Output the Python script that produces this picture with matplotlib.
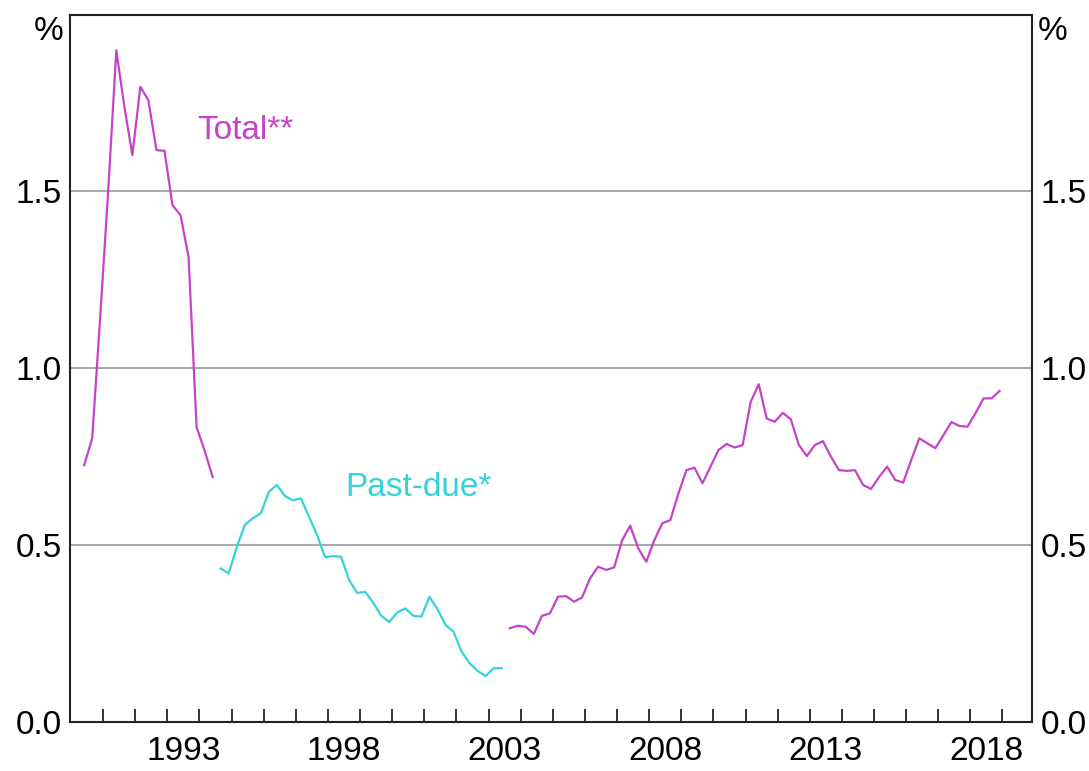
'''
Draws housing non-performing loans shares: total and past-due.
'''

import numpy as np
import matplotlib
matplotlib.use('Agg')
import matplotlib.pyplot as plt

OUT_FILE = 'out.png'

FIRST_QUARTER = 1990.41
STEP = 0.25

TOTAL_EARLY = [
    0.726, 0.802, 1.146, 1.504, 1.899, 1.741, 1.603, 1.796, 1.758,
    1.617, 1.615, 1.461, 1.433, 1.315, 0.834, 0.767, 0.693
]

PAST_DUE = [
    0.434, 0.420, 0.494, 0.557, 0.576, 0.590, 0.651, 0.670, 0.639,
    0.627, 0.632, 0.580, 0.529, 0.466, 0.469, 0.467, 0.401, 0.365,
    0.368, 0.337, 0.300, 0.283, 0.310, 0.321, 0.300, 0.298, 0.354,
    0.319, 0.274, 0.255, 0.199, 0.166, 0.144, 0.130, 0.152, 0.152
]

TOTAL_LATE = [
    0.265, 0.272, 0.269, 0.249, 0.300, 0.307, 0.354, 0.356, 0.340,
    0.352, 0.406, 0.439, 0.430, 0.437, 0.514, 0.555, 0.491, 0.453,
    0.514, 0.562, 0.571, 0.646, 0.712, 0.719, 0.675, 0.722, 0.769,
    0.786, 0.776, 0.783, 0.905, 0.955, 0.858, 0.849, 0.874, 0.856,
    0.783, 0.752, 0.783, 0.794, 0.750, 0.712, 0.710, 0.712, 0.670,
    0.659, 0.693, 0.722, 0.684, 0.677, 0.741, 0.802, 0.788, 0.774,
    0.811, 0.848, 0.837, 0.835, 0.873, 0.915, 0.915, 0.936
]

Y_TICKS = [0.0, 0.5, 1.0, 1.5]
YEAR_LABELS = [1993, 1998, 2003, 2008, 2013, 2018]

MAGENTA = '#c443c8'
CYAN = '#35d2da'
FONT = 'Liberation Sans'
FS = 24


def quarters(start_index, count):
    '''
    Decimal years for a run of quarterly observations.
    '''
    return FIRST_QUARTER + STEP * (start_index + np.arange(count))


def draw():
    '''
    Draws the chart and saves it.
    '''
    plt.rcParams['font.family'] = [FONT, 'DejaVu Sans']

    fig = plt.figure(figsize=(10.89, 7.71), dpi=100)
    ax = fig.add_axes([0.0646, 0.0636, 0.8834, 0.9174])

    n1 = len(TOTAL_EARLY)
    n2 = len(PAST_DUE)
    ax.plot(quarters(0, n1), TOTAL_EARLY, color=MAGENTA, lw=1.6)
    ax.plot(quarters(n1, n2), PAST_DUE, color=CYAN, lw=1.6)
    ax.plot(quarters(n1 + n2, len(TOTAL_LATE)), TOTAL_LATE,
            color=MAGENTA, lw=1.6)

    ax.set_xlim(1989.98, 2019.93)
    ax.set_ylim(0, 2.0)

    # Horizontal grid only
    for v in Y_TICKS[1:]:
        ax.axhline(v, color='#a8a8a8', lw=1.4, zorder=0)

    for s in ax.spines.values():
        s.set_linewidth(1.5)
        s.set_color('#222222')

    # Year ticks inside, labels centred in the year
    ax.set_xticks(np.arange(1991, 2020))
    ax.set_xticklabels([])
    ax.set_xticks([y + 0.5 for y in YEAR_LABELS], minor=True)
    ax.set_xticklabels([str(y) for y in YEAR_LABELS], minor=True,
                       fontsize=FS)
    ax.tick_params(axis='x', which='major', direction='in', length=9.5,
                   width=1.3, color='#222222')
    ax.tick_params(axis='x', which='minor', length=0, pad=10)

    ax.set_yticks(Y_TICKS)
    ax.set_yticklabels(['{:.1f}'.format(v) for v in Y_TICKS], fontsize=FS)
    ax.tick_params(axis='y', length=0, pad=6, labelleft=True,
                   labelright=True)

    ax.text(-0.007, 0.998, '%', transform=ax.transAxes, ha='right',
            va='top', fontsize=FS)
    ax.text(1.006, 0.998, '%', transform=ax.transAxes, ha='left',
            va='top', fontsize=FS)

    ax.text(1995.44, 1.673, 'Total**', color=MAGENTA, fontsize=FS,
            ha='center', va='center')
    ax.text(2000.83, 0.664, 'Past-due*', color=CYAN, fontsize=FS,
            ha='center', va='center')

    fig.savefig(OUT_FILE, dpi=100)


if __name__ == '__main__':
    draw()
